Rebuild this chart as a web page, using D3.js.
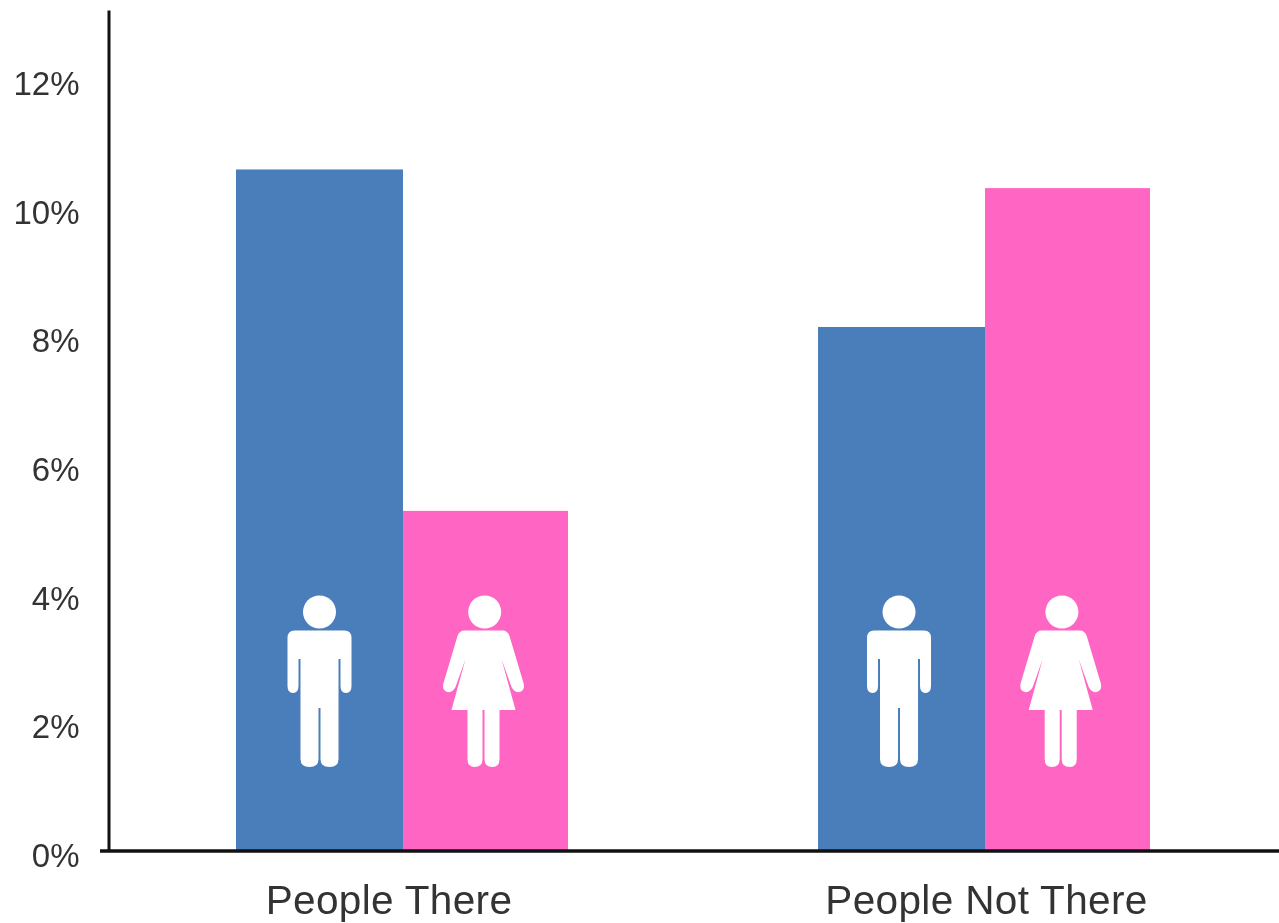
<!DOCTYPE html>
<html>
<head>
<meta charset="utf-8">
<script src="https://cdnjs.cloudflare.com/ajax/libs/d3/7.8.5/d3.min.js"></script>
<style>
html,body{margin:0;padding:0;background:#fff;}
svg{display:block;filter:blur(0.7px);}
text{font-family:"Liberation Sans",Arial,sans-serif;}
</style>
</head>
<body>
<div id="chart"></div>
<script>
const categories = ["People There", "People Not There"];
const seriesNames = ["Men", "Women"];
const menValues = [10.6, 8.15];
const womenValues = [5.29, 10.31];
const tickValues = [0, 2, 4, 6, 8, 10, 12];
const colors = ["#4a7ebb", "#ff66c4"];

const W = 1279, H = 923;
const svg = d3.select("#chart").append("svg").attr("width", W).attr("height", H);

const y = d3.scaleLinear().domain([0, 13.08]).range([851, 10]);
const x0 = d3.scaleBand().domain(categories).range([236, 1150]).paddingInner(0.4296).paddingOuter(0);
const menShare = 0.503;
const xStart = s => s === "Men" ? 0 : x0.bandwidth() * menShare;
const xWidth = s => s === "Men" ? x0.bandwidth() * menShare : x0.bandwidth() * (1 - menShare);
const color = d3.scaleOrdinal().domain(seriesNames).range(colors);
const xLabels = d3.scalePoint().domain(categories).range([388.5, 986]);

const rows = categories.flatMap((c, i) => [
  {cat: c, series: seriesNames[0], value: menValues[i], idx: i},
  {cat: c, series: seriesNames[1], value: womenValues[i], idx: i}
]);

svg.append("g").selectAll("rect").data(rows).join("rect")
  .attr("x", d => x0(d.cat) + xStart(d.series))
  .attr("y", d => y(d.value))
  .attr("width", d => xWidth(d.series))
  .attr("height", d => y(0) - y(d.value))
  .attr("fill", d => color(d.series));

// Pictograms: local coordinates, origin at icon centre on the baseline
const manPath = "M-32,-213 Q-32,-220.5 -25,-220.5 L25,-220.5 Q32,-220.5 32,-213 L32,-165 Q32,-158 26.5,-158 Q21,-158 21,-165 L21,-192 L19,-192 L19,-92 Q19,-84 10,-84 Q1,-84 1,-92 L1,-143 L-1,-143 L-1,-92 Q-1,-84 -10,-84 Q-19,-84 -19,-92 L-19,-192 L-21,-192 L-21,-165 Q-21,-158 -26.5,-158 Q-32,-158 -32,-165 Z";
const womanPath = "M-19,-220.5 L19,-220.5 Q24,-220.5 26,-215 L40,-168 Q42,-161 36,-159 Q31,-158 28,-164 L18,-192 L32,-141 L16,-141 L16,-92 Q16,-84 9,-84 Q1,-84 1,-92 L1,-141 L-1,-141 L-1,-92 Q-1,-84 -9,-84 Q-16,-84 -16,-92 L-16,-141 L-32,-141 L-18,-192 L-28,-164 Q-31,-158 -36,-159 Q-42,-161 -40,-168 L-26,-215 Q-24,-220.5 -19,-220.5 Z";

// Icons do not sit exactly mid-bar in the source: offsets measured from each group's left edge
const iconOffset = d => d.series === "Men" ? [83.5, 81][d.idx] : [247.5, 242.7][d.idx];
const icons = svg.append("g").selectAll("g").data(rows).join("g")
  .attr("transform", d => `translate(${x0(d.cat) + iconOffset(d)},${y(0)})`);
icons.append("circle")
  .attr("cx", d => d.series === "Men" ? 0 : 1.2)
  .attr("cy", -239).attr("r", 16.5).attr("fill", "#fff");
icons.append("path").attr("d", d => d.series === "Men" ? manPath : womanPath).attr("fill", "#fff");

// Axes
const yAxis = d3.axisLeft(y).tickValues(tickValues).tickSize(0).tickPadding(29).tickFormat(d => d + "%");
const gy = svg.append("g").attr("transform", "translate(108.5,0)").call(yAxis);
gy.select(".domain").attr("stroke", "#111").attr("stroke-width", 3);
gy.selectAll("text").attr("font-size", 33).attr("fill", "#333").attr("dy", "0.46em");

const xAxis = d3.axisBottom(xLabels).tickSize(0).tickPadding(32);
const gx = svg.append("g").attr("transform", "translate(0,851)").call(xAxis);
gx.select(".domain").attr("d", "M100,0H1279").attr("stroke", "#111").attr("stroke-width", 3.5);
gx.selectAll("text").attr("font-size", 40.5).attr("letter-spacing", 0.35).attr("fill", "#333").attr("y", 63).attr("dy", 0);
</script>
</body>
</html>
